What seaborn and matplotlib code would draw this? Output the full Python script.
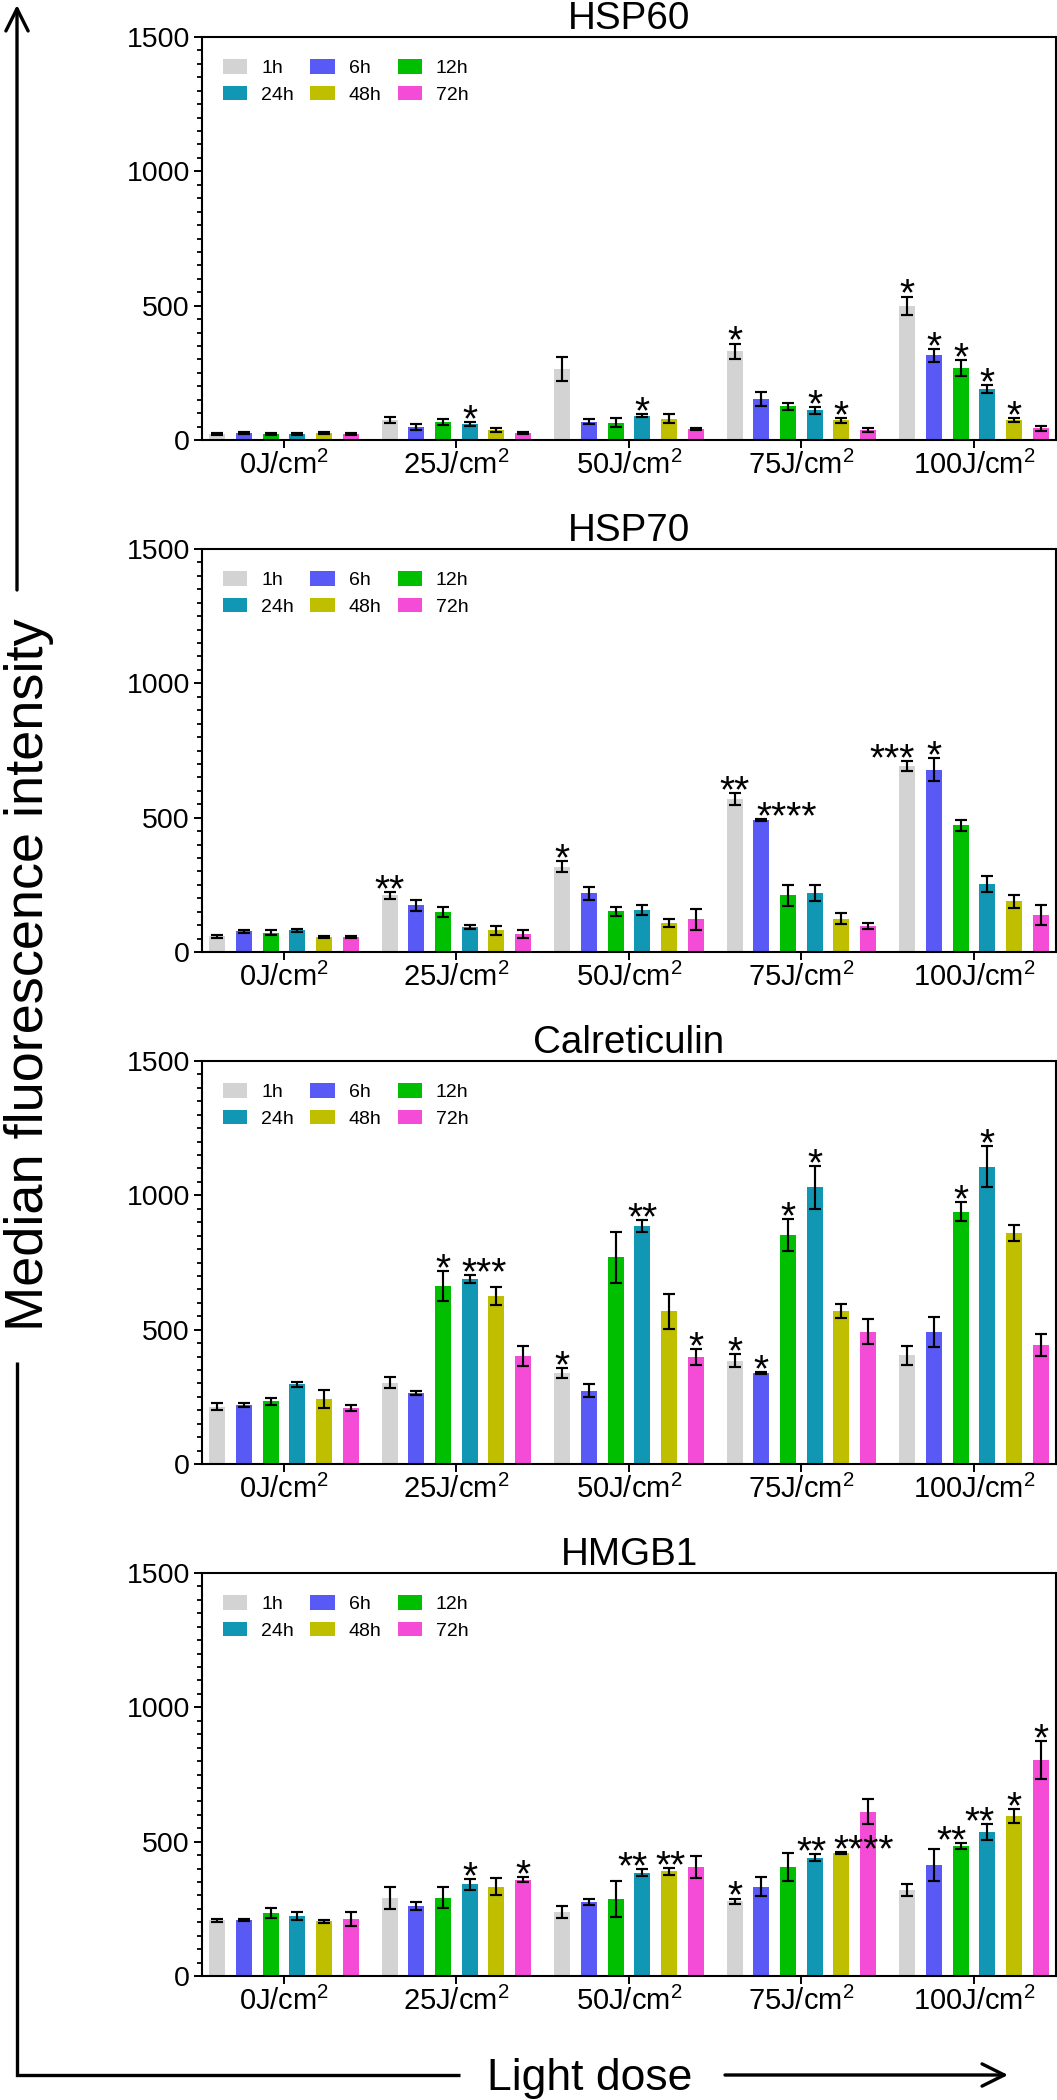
import numpy as np
import pandas as pd
import matplotlib
matplotlib.use("Agg")
import matplotlib.pyplot as plt
import seaborn as sns
from matplotlib.ticker import MultipleLocator
from matplotlib.lines import Line2D
from matplotlib.patches import FancyArrowPatch

# ---------------- data ----------------
doses = ["0J/cm$^2$", "25J/cm$^2$", "50J/cm$^2$", "75J/cm$^2$", "100J/cm$^2$"]
times = ["1h", "6h", "12h", "24h", "48h", "72h"]
colors = ["#D3D3D3", "#5959F5", "#00BF00", "#1197B3", "#BFBF00", "#F54CD8"]
titles = ["HSP60", "HSP70", "Calreticulin", "HMGB1"]

# rows = dose, columns = time (1h, 6h, 12h, 24h, 48h, 72h)
hsp60_mean = [[22, 25, 21, 22, 25, 22],
              [74, 50, 68, 60, 37, 27],
              [263, 68, 65, 91, 79, 40],
              [331, 151, 125, 110, 74, 37],
              [499, 315, 269, 189, 74, 43]]
hsp60_err = [[5, 4, 4, 3, 4, 3],
             [11, 11, 12, 7, 9, 4],
             [45, 9, 16, 6, 16, 4],
             [28, 26, 12, 13, 9, 7],
             [35, 25, 30, 14, 8, 9]]
# (dose index, time index, stars, alignment, horizontal shift in points)
hsp60_sig = [(1, 3, "*", "c", 0), (2, 3, "*", "c", 0), (3, 0, "*", "c", 0), (3, 3, "*", "c", 0),
             (3, 4, "*", "c", 0), (4, 0, "*", "c", 0), (4, 1, "*", "c", 0), (4, 2, "*", "c", 0),
             (4, 3, "*", "c", 0), (4, 4, "*", "c", 0)]

hsp70_mean = [[58, 77, 72, 81, 56, 56],
              [211, 174, 149, 93, 81, 68],
              [318, 218, 152, 157, 107, 122],
              [570, 491, 211, 219, 124, 97],
              [693, 679, 471, 252, 188, 138]]
hsp70_err = [[5, 5, 9, 5, 3, 5],
             [12, 21, 19, 8, 16, 15],
             [21, 25, 17, 19, 14, 39],
             [21, 4, 38, 29, 21, 10],
             [19, 42, 19, 30, 25, 36]]
hsp70_sig = [(1, 0, "**", "c", 0), (2, 0, "*", "c", 0), (3, 0, "**", "c", 0),
             (3, 1, "****", "l", 2), (4, 0, "***", "r", 0), (4, 1, "*", "c", 0)]

calr_mean = [[214, 219, 234, 296, 241, 209],
             [302, 265, 663, 688, 626, 402],
             [339, 272, 769, 886, 569, 399],
             [384, 339, 853, 1030, 570, 493],
             [404, 493, 939, 1107, 859, 442]]
calr_err = [[13, 8, 13, 9, 34, 12],
            [20, 7, 56, 14, 33, 36],
            [19, 24, 96, 23, 65, 29],
            [24, 4, 59, 80, 27, 45],
            [35, 56, 35, 76, 29, 41]]
calr_sig = [(1, 2, "*", "c", 0), (1, 3, "***", "l", 0), (2, 0, "*", "c", 0), (2, 3, "**", "c", 0),
            (2, 5, "*", "c", 0), (3, 0, "*", "c", 0), (3, 1, "*", "c", 0), (3, 2, "*", "c", 0),
            (3, 3, "*", "c", 0), (4, 2, "*", "c", 0), (4, 3, "*", "c", 0)]

hmgb1_mean = [[207, 207, 234, 224, 203, 212],
              [292, 261, 292, 341, 333, 358],
              [238, 275, 286, 385, 389, 406],
              [278, 333, 405, 441, 458, 611],
              [321, 414, 483, 535, 595, 803]]
hmgb1_err = [[6, 4, 18, 16, 4, 25],
             [41, 14, 38, 21, 32, 9],
             [23, 12, 66, 12, 14, 42],
             [10, 37, 52, 12, 3, 46],
             [22, 59, 12, 30, 27, 71]]
hmgb1_sig = [(1, 3, "*", "c", 0), (1, 5, "*", "c", 0), (2, 3, "**", "c", -7), (2, 4, "**", "c", 1),
             (3, 0, "*", "c", 0), (3, 3, "**", "c", -2), (3, 4, "****", "l", 0),
             (4, 2, "**", "c", -6.5), (4, 3, "**", "c", -5.5), (4, 4, "*", "c", 0),
             (4, 5, "*", "c", 0)]

panels = [(hsp60_mean, hsp60_err, hsp60_sig),
          (hsp70_mean, hsp70_err, hsp70_sig),
          (calr_mean, calr_err, calr_sig),
          (hmgb1_mean, hmgb1_err, hmgb1_sig)]

# ---------------- style ----------------
sns.set_theme(style="ticks")
plt.rcParams.update({
    "font.family": ["Liberation Sans", "DejaVu Sans"],
    "mathtext.default": "regular",
    "text.color": "black",
    "axes.labelcolor": "black",
    "xtick.color": "black",
    "ytick.color": "black",
    "axes.edgecolor": "black",
})

W, H = 1057, 2100
fig = plt.figure(figsize=(W / 100, H / 100), dpi=100)
fig.patch.set_facecolor("white")

ax_left, ax_right = 202, 1056
tops = [37, 549, 1061, 1573]
ax_h = 403

for (mean, err, sig), title, top in zip(panels, titles, tops):
    ax = fig.add_axes([ax_left / W, 1 - (top + ax_h) / H, (ax_right - ax_left) / W, ax_h / H])
    df = pd.DataFrame({
        "dose": np.repeat(doses, len(times)),
        "time": np.tile(times, len(doses)),
        "value": np.ravel(mean),
    })
    sns.barplot(data=df, x="dose", y="value", hue="time", order=doses, hue_order=times,
                palette=colors, saturation=1, width=0.929, gap=0.4, errorbar=None,
                linewidth=0, ax=ax, zorder=2)

    bars = sorted([p for p in ax.patches if p.get_height() > 0], key=lambda p: p.get_x())
    xs = [p.get_x() + p.get_width() / 2 for p in bars]
    ax.errorbar(xs, np.ravel(mean), yerr=np.ravel(err), fmt="none", ecolor="black",
                elinewidth=1.55, capsize=4, capthick=1.55, zorder=3)

    for d, t, s, al, dx in sig:
        p = bars[d * len(times) + t]
        ytop = mean[d][t] + err[d][t]
        if al == "c":
            x, ha = p.get_x() + p.get_width() / 2, "center"
        elif al == "l":
            x, ha = p.get_x(), "left"
        else:
            x, ha = p.get_x() + p.get_width(), "right"
        ax.annotate(s, xy=(x, ytop), xytext=(dx, -6.6), textcoords="offset points",
                    ha=ha, va="baseline", fontsize=28, color="black", zorder=4)

    # legend: 2 rows x 3 columns (1h 6h 12h / 24h 48h 72h)
    leg = ax.get_legend()
    hs = list(leg.legend_handles)
    ls = [t.get_text() for t in leg.get_texts()]
    leg.remove()
    order = [0, 3, 1, 4, 2, 5]
    ax.legend([hs[i] for i in order], [ls[i] for i in order], ncol=3, loc="upper left",
              bbox_to_anchor=(21 / 854, 1 - 22 / 403), frameon=False, fontsize=14,
              handlelength=1.24, handleheight=0.78, handletextpad=0.72,
              columnspacing=0.85, labelspacing=0.45, borderpad=0, borderaxespad=0)

    ax.set_xlim(-0.475, 4.476)
    ax.set_ylim(0, 1500)
    ax.yaxis.set_major_locator(MultipleLocator(500))
    ax.yaxis.set_minor_locator(MultipleLocator(50))
    ax.tick_params(axis="y", which="major", length=5.8, width=1.4, labelsize=20.5, pad=2.9)
    ax.tick_params(axis="y", which="minor", length=3.4, width=1.3)
    ax.tick_params(axis="x", which="major", length=5.8, width=1.4, labelsize=21, pad=2)
    ax.set_xlabel("")
    ax.set_ylabel("")
    ax.set_title(title, fontsize=27.8, pad=3.5)
    for sp in ax.spines.values():
        sp.set_visible(True)
        sp.set_linewidth(1.5)
        sp.set_color("black")


def fx(px):
    return px / W


def fy(py):
    return 1 - py / H


lw = 2.4
# axis-style arrows around the figure
ylab_cx, ylab_cy = 43, 975
fig.text(fx(ylab_cx), fy(ylab_cy), "Median fluorescence intensity", rotation=90,
         rotation_mode="anchor", ha="center", va="baseline", fontsize=39)
fig.text(fx(590), fy(2090), "Light dose", ha="center", va="baseline", fontsize=32)

# L-shaped bottom-left segment
fig.add_artist(Line2D([fx(460), fx(17), fx(17)], [fy(2075), fy(2075), fy(1362)],
                      color="black", lw=lw, solid_joinstyle="miter", solid_capstyle="butt"))
# vertical arrow (upper part)
fig.add_artist(FancyArrowPatch((fx(17), fy(590)), (fx(17), fy(5)), transform=fig.transFigure,
                               arrowstyle="->,head_length=0.8,head_width=0.4", mutation_scale=20,
                               lw=lw, color="black", shrinkA=0, shrinkB=0))
# horizontal arrow (right part)
fig.add_artist(FancyArrowPatch((fx(725), fy(2075)), (fx(1008), fy(2075)), transform=fig.transFigure,
                               arrowstyle="->,head_length=0.8,head_width=0.4", mutation_scale=20,
                               lw=lw, color="black", shrinkA=0, shrinkB=0))

fig.savefig("out.png", dpi=100, facecolor="white")
